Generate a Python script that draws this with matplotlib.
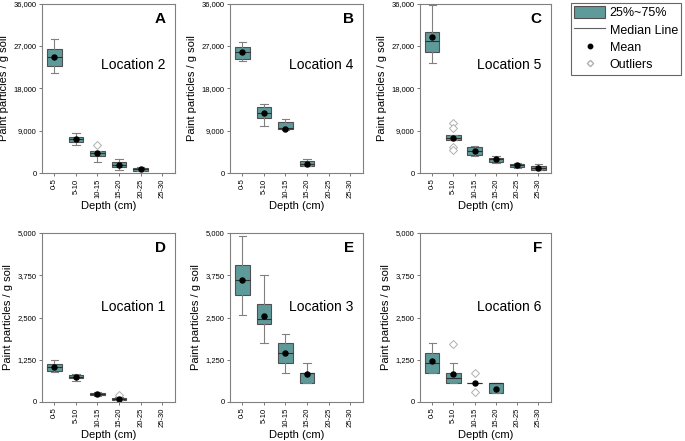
import numpy as np
import matplotlib.pyplot as plt
from matplotlib.patches import Patch
from matplotlib.lines import Line2D

plt.rcParams['font.family'] = ['Liberation Sans', 'DejaVu Sans']

depths = ["0-5", "5-10", "10-15", "15-20", "20-25", "25-30"]

# box summaries per depth: whisker low, q1, median, q3, whisker high, mean
# Location 2 (A)
loc2_low = [21260, 5950, 2410, 710, 350]
loc2_q1 = [22680, 6520, 3690, 1350, 430]
loc2_med = [24660, 7160, 4180, 1770, 850]
loc2_q3 = [26360, 7730, 4610, 2270, 1060]
loc2_high = [28490, 8500, 4700, 3050, 1350]
loc2_mean = [24660, 7160, 4180, 1770, 850]
loc2_fliers = [[], [], [5950], [], []]

# Location 4 (B)
loc4_low = [23810, 9990, 9070, 1420]
loc4_q1 = [24170, 11690, 9430, 1560]
loc4_med = [25730, 12690, 9500, 1980]
loc4_q3 = [26720, 14030, 10840, 2550]
loc4_high = [27920, 14670, 11480, 3050]
loc4_mean = [25730, 12690, 9360, 1980]
loc4_fliers = [[], [], [], []]

# Location 5 (C)
loc5_low = [23390, 7000, 3540, 2200, 1140, 570]
loc5_q1 = [25800, 7100, 3760, 2410, 1280, 710]
loc5_med = [28060, 7520, 4750, 2910, 1630, 990]
loc5_q3 = [29910, 8080, 5530, 3260, 1980, 1490]
loc5_high = [35650, 8150, 5740, 3610, 2050, 1980]
loc5_mean = [28920, 7520, 4750, 2910, 1630, 990]
loc5_fliers = [[], [10630, 9650, 5530, 4820], [], [], [], []]

# Location 1 (D)
loc1_low = [890, 620, 190, 60]
loc1_q1 = [920, 700, 200, 70]
loc1_med = [1040, 750, 250, 100]
loc1_q3 = [1110, 810, 280, 130]
loc1_high = [1230, 840, 300, 135]
loc1_mean = [1045, 750, 250, 100]
loc1_fliers = [[], [], [], [215]]

# Location 3 (E)
loc3_low = [2580, 1740, 870, 560]
loc3_q1 = [3170, 2310, 1140, 560]
loc3_med = [3610, 2450, 1450, 870]
loc3_q3 = [4040, 2890, 1740, 870]
loc3_high = [4920, 3770, 2020, 1150]
loc3_mean = [3610, 2540, 1450, 830]
loc3_fliers = [[], [], [], []]

# Location 6 (F)
loc6_low = [860, 560, 570, 280]
loc6_q1 = [860, 560, 570, 280]
loc6_med = [1150, 720, 570, 570]
loc6_q3 = [1440, 870, 570, 570]
loc6_high = [1750, 1150, 570, 570]
loc6_mean = [1210, 840, 570, 375]
loc6_fliers = [[], [1730], [860, 290], []]

panels = [
    ("A", "Location 2", 36000, loc2_low, loc2_q1, loc2_med, loc2_q3, loc2_high, loc2_mean, loc2_fliers),
    ("B", "Location 4", 36000, loc4_low, loc4_q1, loc4_med, loc4_q3, loc4_high, loc4_mean, loc4_fliers),
    ("C", "Location 5", 36000, loc5_low, loc5_q1, loc5_med, loc5_q3, loc5_high, loc5_mean, loc5_fliers),
    ("D", "Location 1", 5000, loc1_low, loc1_q1, loc1_med, loc1_q3, loc1_high, loc1_mean, loc1_fliers),
    ("E", "Location 3", 5000, loc3_low, loc3_q1, loc3_med, loc3_q3, loc3_high, loc3_mean, loc3_fliers),
    ("F", "Location 6", 5000, loc6_low, loc6_q1, loc6_med, loc6_q3, loc6_high, loc6_mean, loc6_fliers),
]

box_color = "#5f9a9a"
edge_color = "#505050"
whisk_color = "#808080"

W, H = 685, 441
fig = plt.figure(figsize=(W / 100, H / 100), dpi=100)

# axes boxes in pixels: left, top, right, bottom
rects = [(42, 3.5, 175, 173), (230, 3.5, 363, 173), (420, 3.5, 551, 173),
         (42, 233, 175, 402), (230, 233, 363, 402), (420, 233, 551, 402)]

for (letter, name, ymax, lo, q1, med, q3, hi, mean, fl), (l, t, r, b) in zip(panels, rects):
    ax = fig.add_axes([l / W, 1 - b / H, (r - l) / W, (b - t) / H])
    stats = []
    for i in range(len(lo)):
        stats.append(dict(whislo=lo[i], q1=q1[i], med=med[i], q3=q3[i], whishi=hi[i],
                          mean=mean[i], fliers=fl[i]))
    pos = np.arange(1, len(lo) + 1)
    ax.bxp(stats, positions=pos, widths=0.68, patch_artist=True, showmeans=True,
           boxprops=dict(facecolor=box_color, edgecolor=edge_color, linewidth=0.8),
           medianprops=dict(color="#303030", linewidth=0.8),
           whiskerprops=dict(color=whisk_color, linewidth=0.8),
           capprops=dict(color=whisk_color, linewidth=0.8),
           capwidths=0.34,
           meanprops=dict(marker="o", markerfacecolor="black", markeredgecolor="black", markersize=3.6),
           flierprops=dict(marker="D", markerfacecolor="white", markeredgecolor="#b0b0b0",
                           markersize=3.6, markeredgewidth=0.7))
    ax.set_xlim(0.43, 6.59)
    ax.set_ylim(0, ymax)
    ax.set_xticks(range(1, 7))
    ax.set_xticklabels(depths, rotation=90, fontsize=5.5)
    yt = np.linspace(0, ymax, 5)
    ax.set_yticks(yt)
    ax.set_yticklabels([f"{int(v):,}" for v in yt], fontsize=5.5)
    ax.tick_params(length=2.5, width=0.6, color="#606060", pad=1.5)
    for s in ax.spines.values():
        s.set_color("#808080")
        s.set_linewidth(0.8)
    ax.set_xlabel("Depth (cm)", fontsize=8, labelpad=2.5)
    ax.set_ylabel("Paint particles / g soil", fontsize=8, labelpad=3)
    ax.text(0.93, 0.95, letter, transform=ax.transAxes, fontsize=11, fontweight="bold",
            ha="right", va="top")
    ax.text(0.93, 0.64 if ymax == 36000 else 0.56, name, transform=ax.transAxes,
            fontsize=10, ha="right", va="center")

handles = [Patch(facecolor=box_color, edgecolor=edge_color, linewidth=0.8),
           Line2D([], [], color="#606060", linewidth=0.8),
           Line2D([], [], color="none", marker="o", markerfacecolor="black",
                  markeredgecolor="black", markersize=3.2),
           Line2D([], [], color="none", marker="D", markerfacecolor="white",
                  markeredgecolor="#b0b0b0", markersize=3.2)]
labels = ["25%~75%", "Median Line", "Mean", "Outliers"]
leg = fig.legend(handles, labels, loc="upper left", bbox_to_anchor=(571 / W, 1 - 2.5 / H),
                 fontsize=9, frameon=True, fancybox=False, handlelength=2.5, handleheight=1.2,
                 handletextpad=0.35, borderpad=0.25, labelspacing=0.3, borderaxespad=0)
leg.get_frame().set_edgecolor("#404040")
leg.get_frame().set_linewidth(0.8)

fig.savefig("out.png", dpi=100)
